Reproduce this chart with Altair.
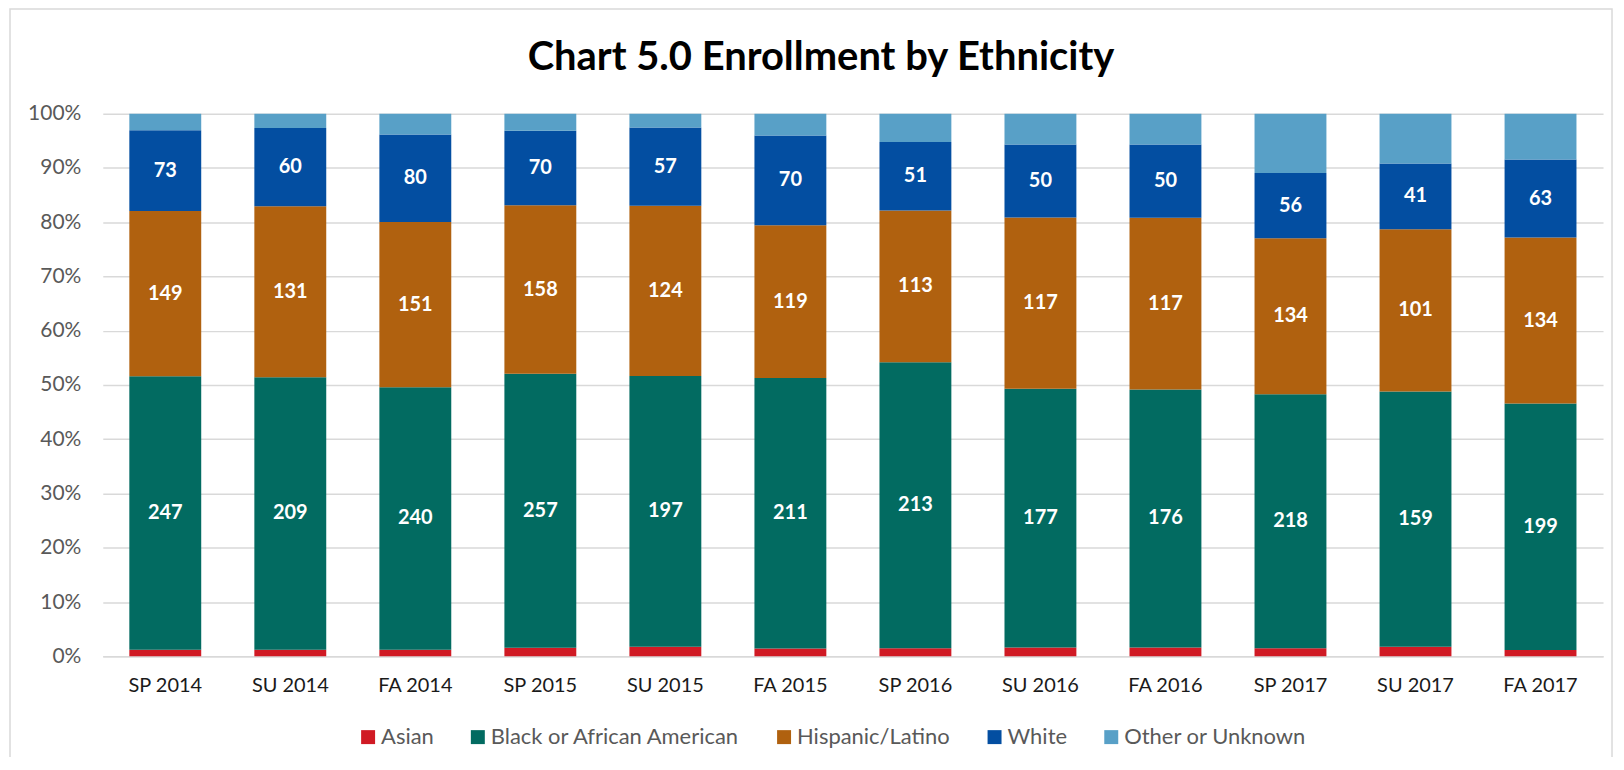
import altair as alt
import pandas as pd

terms = ["SP 2014", "SU 2014", "FA 2014", "SP 2015", "SU 2015", "FA 2015",
         "SP 2016", "SU 2016", "FA 2016", "SP 2017", "SU 2017", "FA 2017"]
asian = [6, 5, 6, 8, 7, 6, 6, 6, 6, 7, 6, 5]
black = [247, 209, 240, 257, 197, 211, 213, 177, 176, 218, 159, 199]
hispanic = [149, 131, 151, 158, 124, 119, 113, 117, 117, 134, 101, 134]
white = [73, 60, 80, 70, 57, 70, 51, 50, 50, 56, 41, 63]
other = [15, 11, 19, 16, 10, 17, 21, 21, 21, 51, 31, 37]

names = ["Asian", "Black or African American", "Hispanic/Latino", "White", "Other or Unknown"]
colors = ["#d01a24", "#026b61", "#b0610f", "#034ea1", "#58a0c7"]
labelled = ["Black or African American", "Hispanic/Latino", "White"]
title_text = "Chart 5.0 Enrollment by Ethnicity"

series = [asian, black, hispanic, white, other]
rows = []
for i, t in enumerate(terms):
    for k, name in enumerate(names):
        rows.append({"term": t, "ethnicity": name, "count": series[k][i], "order": k})
df = pd.DataFrame(rows)

FONT = "Lato"

base = alt.Chart(df).transform_stack(
    stack="count", groupby=["term"],
    sort=[alt.SortField("order", order="ascending")],
    offset="normalize", as_=["y0", "y1"]
).transform_calculate(mid="(datum.y0 + datum.y1) / 2")

xenc = alt.X("term:N", sort=terms,
             scale=alt.Scale(paddingInner=0.425, paddingOuter=0.2125),
             axis=alt.Axis(title=None, labelAngle=0, ticks=False, domain=True,
                           domainColor="#d9d9d9", domainWidth=1.5, grid=False,
                           labelFontSize=20, labelFont=FONT, labelColor="#1a1a1a",
                           labelPadding=19))

bars = base.mark_bar().encode(
    x=xenc,
    y=alt.Y("y0:Q", scale=alt.Scale(domain=[0, 1], nice=False),
            axis=alt.Axis(title=None, format=".0%",
                          values=[0, 0.1, 0.2, 0.3, 0.4, 0.5, 0.6, 0.7, 0.8, 0.9, 1.0],
                          domain=False, ticks=False, labelPadding=22,
                          gridColor="#d9d9d9", gridWidth=1.5,
                          labelFontSize=21, labelFont=FONT, labelColor="#595959")),
    y2="y1:Q",
    color=alt.Color("ethnicity:N", sort=names,
                    scale=alt.Scale(domain=names, range=colors),
                    legend=alt.Legend(title=None, orient="none", legendX=255, legendY=614,
                                      direction="horizontal", symbolType="square",
                                      symbolSize=196, symbolStrokeWidth=0,
                                      labelFontSize=22, labelFont=FONT, labelLimit=500,
                                      labelColor="#595959", columnPadding=33,
                                      labelOffset=2)),
    order=alt.Order("order:Q")
)

labels = base.transform_filter(
    alt.FieldOneOfPredicate(field="ethnicity", oneOf=labelled)
).mark_text(color="white", fontWeight="bold", font=FONT, fontSize=20).encode(
    x=alt.X("term:N", sort=terms),
    y=alt.Y("mid:Q"),
    text="count:Q"
)

frame = alt.Chart(pd.DataFrame({"a": [0]})).mark_rect(
    fill=None, stroke="#d9d9d9", strokeWidth=1.5
).encode(x=alt.value(-93), x2=alt.value(1513), y=alt.value(-105), y2=alt.value(700))

title = alt.Chart(pd.DataFrame({"t": [title_text]})).mark_text(
    font=FONT, fontSize=40, fontWeight="bold", color="#000000",
    align="center", baseline="middle"
).encode(text="t:N", x=alt.value(720), y=alt.value(-56))

chart = alt.layer(frame, bars, labels, title).properties(
    width=1504, height=544,
    autosize=alt.AutoSizeParams(type="none"),
    padding={"left": 95, "top": 105, "right": 13, "bottom": 100},
).configure_view(stroke=None)

chart.save("out.html", embed_options={"renderer": "svg", "actions": False})
